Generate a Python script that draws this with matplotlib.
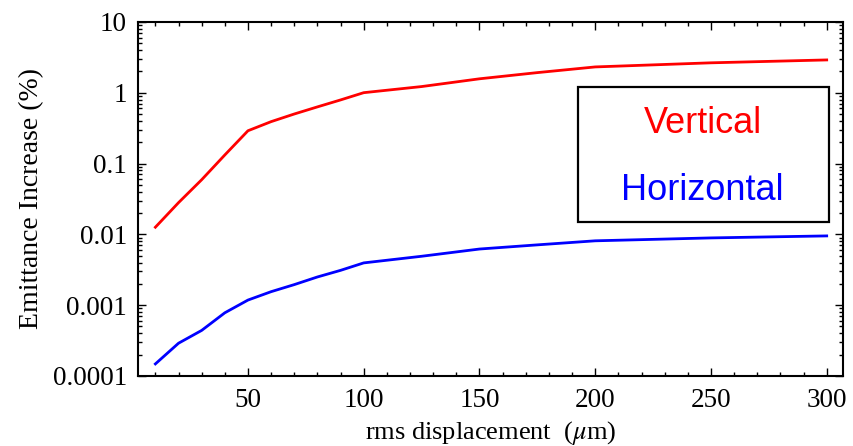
import numpy as np
import matplotlib.pyplot as plt
from matplotlib.ticker import FuncFormatter, MultipleLocator, LogLocator
from matplotlib.patches import Rectangle

plt.rcParams['font.family'] = ['Liberation Serif', 'DejaVu Serif']
plt.rcParams['mathtext.fontset'] = 'stix'

# rms displacement (um)
disp = [10, 20, 30, 40, 50, 60, 70, 80, 90, 100, 125, 150, 175, 200, 250, 300]
# emittance increase (%)
vertical = [0.0126, 0.028, 0.059, 0.132, 0.29, 0.39, 0.5, 0.63, 0.79, 1.0,
            1.22, 1.57, 1.92, 2.31, 2.64, 2.9]
horizontal = [0.000148, 0.00029, 0.00044, 0.00078, 0.00118, 0.00155, 0.00195, 0.0025,
              0.0031, 0.00395, 0.0049, 0.0062, 0.0071, 0.0081, 0.0089, 0.0095]

yticks = [0.0001, 0.001, 0.01, 0.1, 1, 10]


def fmt_y(y, pos):
    return f"{y:g}"


fig = plt.figure(figsize=(8.54, 4.46), dpi=100)
ax = fig.add_axes([0.1616, 0.157, 0.8254, 0.794])

ax.plot(disp, vertical, color='#ff0000', lw=2)
ax.plot(disp, horizontal, color='#0000ff', lw=2)

ax.set_yscale('log')
ax.set_ylim(1e-4, 10)
ax.set_xlim(2.5, 307)

ax.set_yticks(yticks)
ax.yaxis.set_major_formatter(FuncFormatter(fmt_y))
ax.yaxis.set_minor_locator(LogLocator(base=10, subs=np.arange(2, 10)))
ax.yaxis.set_minor_formatter(FuncFormatter(lambda y, pos: ''))
ax.xaxis.set_major_locator(MultipleLocator(50))
ax.xaxis.set_minor_locator(MultipleLocator(10))

ax.tick_params(which='both', direction='in', top=True, right=True, labelsize=19.5, width=1)
ax.tick_params(which='major', length=6)
ax.tick_params(which='minor', length=3)
ax.tick_params(axis='x', pad=9)
ax.tick_params(axis='y', pad=8)
for s in ax.spines.values():
    s.set_linewidth(1.5)

ax.set_xlabel(r'rms displacement  ($\mu$m)', fontsize=19, labelpad=4)
ax.set_ylabel('Emittance Increase (%)', fontsize=20, labelpad=6)

# label box
ax.add_patch(Rectangle((0.6236, 0.436), 0.3564, 0.38, transform=ax.transAxes,
                       fill=False, edgecolor='black', lw=1.6, zorder=5))
ax.text(0.801, 0.686, 'Vertical', transform=ax.transAxes, ha='center', va='baseline',
        color='#ff0000', fontsize=26, family=['Liberation Sans', 'DejaVu Sans'])
ax.text(0.801, 0.496, 'Horizontal', transform=ax.transAxes, ha='center', va='baseline',
        color='#0000ff', fontsize=26, family=['Liberation Sans', 'DejaVu Sans'])

fig.savefig('out.png', dpi=100)
